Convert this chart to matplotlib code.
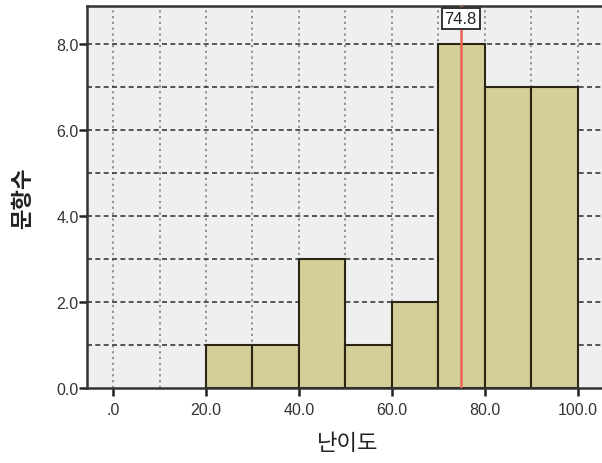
import matplotlib
matplotlib.use("Agg")
import matplotlib.pyplot as plt
import numpy as np

plt.rcParams['font.family'] = ['Liberation Sans', 'Noto Sans CJK KR', 'DejaVu Sans']

# histogram data (난이도 bins of width 10)
bin_left = [20, 30, 40, 50, 60, 70, 80, 90]
counts = [1, 1, 3, 1, 2, 8, 7, 7]
mean_value = 74.8
x_ticks = [0, 20, 40, 60, 80, 100]
x_ticklabels = ['.0', '20.0', '40.0', '60.0', '80.0', '100.0']
y_ticks = [0, 2, 4, 6, 8]
y_ticklabels = ['0.0', '2.0', '4.0', '6.0', '8.0']

fig = plt.figure(figsize=(6.02, 4.64), dpi=100)
ax = fig.add_axes([87 / 602, 1 - 389 / 464, 1 - 87 / 602 + 0.01, (389 - 7) / 464])
ax.set_facecolor('#efefef')

ax.set_xlim(-5.6, 106.5)
ax.set_ylim(0, 8.88)

# grid: dotted verticals every 10, dashed horizontals every 1
for gx in range(0, 101, 10):
    ax.axvline(gx, color='#888888', lw=1.3, ls=(0, (1.2, 2)), zorder=1)
for gy in range(1, 9):
    ax.axhline(gy, color='#3a3a3a', lw=1.2, ls=(0, (3, 2)), zorder=1)

ax.bar(bin_left, counts, width=10, align='edge', color='#d4cf98',
       edgecolor='#2b2516', linewidth=1.5, zorder=2)

ax.axvline(mean_value, color='#e8644e', lw=1.8, zorder=3)
ax.text(mean_value, 8.58, f'{mean_value}', ha='center', va='center',
        fontsize=12, color='#222222',
        bbox=dict(boxstyle='square,pad=0.18', fc='white', ec='#333333', lw=1.4),
        zorder=4, clip_on=False)

ax.set_xticks(x_ticks)
ax.set_xticklabels(x_ticklabels)
ax.set_yticks(y_ticks)
ax.set_yticklabels(y_ticklabels)
ax.tick_params(axis='both', direction='out', length=6, width=1.8,
               colors='#222222', labelsize=11.5, labelcolor='#333333')
ax.tick_params(axis='x', pad=4)
ax.tick_params(axis='y', pad=0)

for side in ['left', 'bottom', 'top']:
    ax.spines[side].set_linewidth(1.8)
    ax.spines[side].set_color('#333333')
ax.spines['right'].set_visible(False)

ax.set_xlabel('난이도', fontsize=16, color='#222222', labelpad=10,
              family=['Noto Sans CJK KR'])
ax.set_ylabel('문항수', fontsize=16, color='#222222', labelpad=16,
              family=['Noto Sans CJK KR'], fontweight='bold')

fig.savefig('out.png', dpi=100)
